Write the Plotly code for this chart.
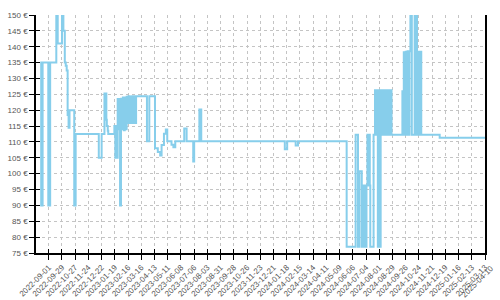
import plotly.graph_objects as go
from datetime import date

# ---- data ----
price_dates = [
    "2022-08-14", "2022-08-16", "2022-08-19", "2022-08-31", "2022-09-04", "2022-09-17",
    "2022-09-20", "2022-09-29", "2022-10-02", "2022-10-05", "2022-10-07", "2022-10-09",
    "2022-10-11", "2022-10-13", "2022-10-15", "2022-10-25", "2022-10-28", "2022-12-16",
    "2022-12-22", "2022-12-28", "2023-01-01", "2023-01-02", "2023-01-04", "2023-01-05",
    "2023-01-18", "2023-01-20", "2023-01-22", "2023-01-24", "2023-01-25", "2023-01-28",
    "2023-01-30", "2023-02-01", "2023-02-03", "2023-02-05", "2023-02-07", "2023-02-09",
    "2023-02-11", "2023-02-13", "2023-02-15", "2023-02-17", "2023-02-19", "2023-02-21",
    "2023-02-23", "2023-02-25", "2023-02-27", "2023-03-01", "2023-03-03", "2023-03-05",
    "2023-03-28", "2023-04-02", "2023-04-14", "2023-04-20", "2023-04-25", "2023-04-28",
    "2023-05-03", "2023-05-07", "2023-05-10", "2023-05-19", "2023-05-23", "2023-05-27",
    "2023-06-15", "2023-06-20", "2023-07-04", "2023-07-06", "2023-07-17", "2023-07-21",
    "2024-01-14", "2024-01-19", "2024-02-06", "2024-02-11", "2024-05-24", "2024-06-12",
    "2024-06-17", "2024-06-20", "2024-06-25", "2024-06-27", "2024-06-29", "2024-07-01",
    "2024-07-03", "2024-07-05", "2024-07-07", "2024-07-08", "2024-07-11", "2024-07-12",
    "2024-07-13", "2024-07-20", "2024-07-23", "2024-07-25", "2024-07-27", "2024-07-29",
    "2024-07-31", "2024-08-02", "2024-08-04", "2024-08-06", "2024-08-08", "2024-08-10",
    "2024-08-12", "2024-08-14", "2024-08-16", "2024-08-19", "2024-08-21", "2024-08-23",
    "2024-08-25", "2024-08-27", "2024-09-19", "2024-09-21", "2024-09-22", "2024-09-24",
    "2024-09-26", "2024-09-28", "2024-09-30", "2024-10-02", "2024-10-04", "2024-10-06",
    "2024-10-09", "2024-10-15", "2024-10-16", "2024-10-18", "2024-10-20", "2024-10-22",
    "2024-10-24", "2024-10-26", "2024-10-28", "2024-10-29", "2024-12-07", "2025-03-13",
]
prices = [
    135, 90, 135, 90, 135, 150,
    141, 150, 145, 135, 134, 132.5,
    118.5, 114.5, 120, 90, 112.5, 105,
    112.5, 125.3, 117, 115, 113.5, 112.5,
    115, 105, 115, 105, 123.5, 114,
    90, 123.6, 114, 124, 113.7, 124,
    114, 124.2, 116, 124.4, 116, 124.3,
    116, 124.4, 116, 124.4, 116, 124.4,
    110.2, 124.4, 108, 106.8, 105.7, 109,
    112.6, 113.9, 110.2, 109.1, 108.3, 110.2,
    114.2, 110.2, 103.8, 110.2, 120.2, 110.2,
    107.7, 110.2, 108.9, 110.2, 77, 112.3,
    77, 100.8, 77, 96.3, 77, 96.3,
    77, 96.3, 112.3, 96.3, 112.3, 96.3,
    77, 112.3, 126.3, 112.3, 126.3, 77,
    126.3, 77, 126.3, 112.3, 126.3, 112.3,
    126.3, 112.3, 126.3, 112.3, 126.3, 112.3,
    126.3, 112.3, 126, 112.3, 138.3, 112.3,
    138.4, 112.3, 138.6, 112.3, 138.6, 150,
    112.3, 150, 112.3, 150, 138.4, 112.3,
    138.4, 112.3, 138.4, 112.3, 111.3, 111.3,
]
tick_labels = [
    "2022-09-01", "2022-09-29", "2022-10-27", "2022-11-24", "2022-12-22",
    "2023-01-19", "2023-02-16", "2023-03-16", "2023-04-13", "2023-05-11",
    "2023-06-08", "2023-07-06", "2023-08-03", "2023-08-31", "2023-09-28",
    "2023-10-26", "2023-11-23", "2023-12-21", "2024-01-18", "2024-02-15",
    "2024-03-14", "2024-04-11", "2024-05-09", "2024-06-06", "2024-07-04",
    "2024-08-01", "2024-08-29", "2024-09-26", "2024-10-24", "2024-11-21",
    "2024-12-19", "2025-01-16", "2025-02-13", "2025-03-13", "2025-04-10",
]
x_range = ["2022-08-05", "2025-03-13"]
y_range = [75, 150]

# ---- figure ----
FONT = "Liberation Sans, Arial, sans-serif"
TXT = "#555555"

d0 = date.fromisoformat(x_range[0])
d1 = date.fromisoformat(x_range[1])
in_ticks = [t for t in tick_labels if date.fromisoformat(t) <= d1]
out_ticks = [t for t in tick_labels if date.fromisoformat(t) > d1]

fig = go.Figure()
fig.add_trace(go.Scatter(
    x=price_dates, y=prices, mode="lines",
    line=dict(color="#87CEEB", width=2, shape="hv"),
    showlegend=False, hoverinfo="skip",
))
# empty trace to host the inner tick overlay axes
fig.add_trace(go.Scatter(x=[], y=[], xaxis="x2", yaxis="y2", showlegend=False))

grid = dict(showgrid=True, gridcolor="#c4c4c4", gridwidth=1, griddash="3px,3px")

fig.update_layout(
    width=500, height=300,
    margin=dict(l=36, r=15, t=15, b=47, autoexpand=False),
    paper_bgcolor="white", plot_bgcolor="white",
    font=dict(family=FONT, size=8, color=TXT),
    xaxis=dict(
        type="date", range=x_range, automargin=False,
        tickmode="array", tickvals=in_ticks, ticktext=in_ticks,
        tickangle=-45, ticks="outside", ticklen=5, tickcolor="black", tickwidth=1,
        showline=True, linecolor="black", linewidth=1.5,
        zeroline=False, tickfont=dict(family=FONT, size=8, color=TXT),
        **grid,
    ),
    yaxis=dict(
        range=y_range, tick0=75, dtick=5, ticksuffix=" €", automargin=False,
        ticks="outside", ticklen=5, tickcolor="black", tickwidth=1,
        showline=True, mirror=True, linecolor="black", linewidth=1.5,
        zeroline=False, tickfont=dict(family=FONT, size=8, color=TXT),
        **grid,
    ),
    xaxis2=dict(
        type="date", range=x_range, overlaying="x", anchor="y2", side="bottom",
        tickmode="array", tickvals=in_ticks, showticklabels=False, automargin=False,
        ticks="inside", ticklen=4, tickcolor="black", tickwidth=1,
        showgrid=False, showline=False, zeroline=False,
    ),
    yaxis2=dict(
        range=y_range, overlaying="y", anchor="x2", side="left",
        tick0=75, dtick=5, showticklabels=False, automargin=False,
        ticks="inside", ticklen=4, tickcolor="black", tickwidth=1,
        showgrid=False, showline=False, zeroline=False,
    ),
)

# tick label lying just past the right end of the axis
span = (d1 - d0).days
for t in out_ticks:
    frac = (date.fromisoformat(t) - d0).days / span
    fig.add_annotation(
        x=frac, y=0, xref="paper", yref="paper", text=t, showarrow=False,
        textangle=-45, xanchor="right", yanchor="top", yshift=-8,
        font=dict(family=FONT, size=8, color=TXT),
    )

fig.write_html("out.html")
